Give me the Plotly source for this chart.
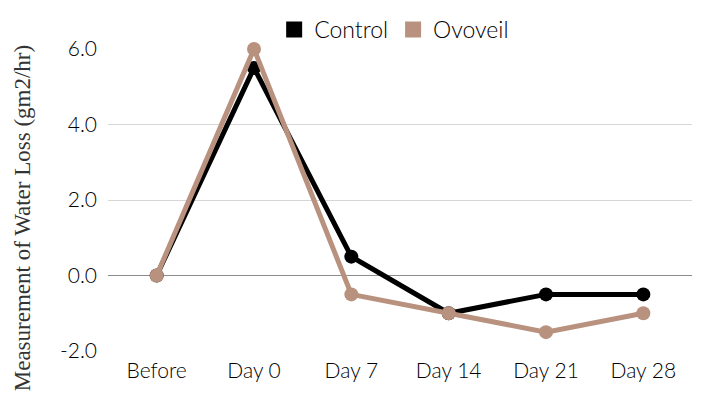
import plotly.graph_objects as go

categories = ["Before", "Day 0", "Day 7", "Day 14", "Day 21", "Day 28"]
control = [0.0, 5.5, 0.5, -1.0, -0.5, -0.5]
ovoveil = [0.0, 6.0, -0.5, -1.0, -1.5, -1.0]
tick_vals = [-2, 0, 2, 4, 6]
tick_text = ["-2.0", "0.0", "2.0", "4.0", "6.0"]
y_title = "Measurement of Water Loss (gm2/hr)"

c_control = "#000000"
c_ovo = "#b8927e"

fig = go.Figure()
fig.add_trace(go.Scatter(x=categories, y=control, mode="lines+markers", name="Control",
                         line=dict(color=c_control, width=5), marker=dict(size=14, color=c_control),
                         showlegend=False, cliponaxis=False))
fig.add_trace(go.Scatter(x=categories, y=ovoveil, mode="lines+markers", name="Ovoveil",
                         line=dict(color=c_ovo, width=5), marker=dict(size=14, color=c_ovo),
                         showlegend=False, cliponaxis=False))
for name, col in [("Control", c_control), ("Ovoveil", c_ovo)]:
    fig.add_trace(go.Scatter(x=[None], y=[None], mode="markers", name=name,
                             marker=dict(symbol="square", size=22, color=col)))

tick_font = dict(family="Lato, Noto Sans, sans-serif", size=21, color="#000", weight=300)

fig.update_layout(
    width=702, height=401,
    margin=dict(l=100, r=18, t=41, b=58, autoexpand=False),
    paper_bgcolor="white", plot_bgcolor="white",
    font=dict(family="Lato, Noto Sans, sans-serif", size=21, color="#000"),
    legend=dict(orientation="h", x=0.49, xanchor="center", xref="paper",
                y=1.0, yref="container", yanchor="top",
                font=dict(family="Lato, Noto Sans, sans-serif", size=23, color="#000", weight=300),
                itemsizing="trace", traceorder="normal"),
    xaxis=dict(showgrid=False, showline=False, zeroline=False, ticks="",
               tickfont=tick_font, range=[-0.5, 5.5], automargin=False,
               ticklabelstandoff=5),
    yaxis=dict(range=[-2, 6], tickvals=tick_vals, ticktext=tick_text,
               showgrid=True, gridcolor="#d6d6d6", gridwidth=1,
               zeroline=True, zerolinecolor="#8c8c8c", zerolinewidth=1,
               tickfont=tick_font, ticks="", ticklen=0, automargin=False,
               ticklabelstandoff=10),
    annotations=[dict(text=y_title, textangle=-90, xref="paper", yref="paper",
                      x=-0.147, y=0.44, xanchor="center", yanchor="middle", showarrow=False,
                      font=dict(family="Liberation Serif, DejaVu Serif, serif", size=23, color="#333"))],
)
fig.write_html("out.html")
